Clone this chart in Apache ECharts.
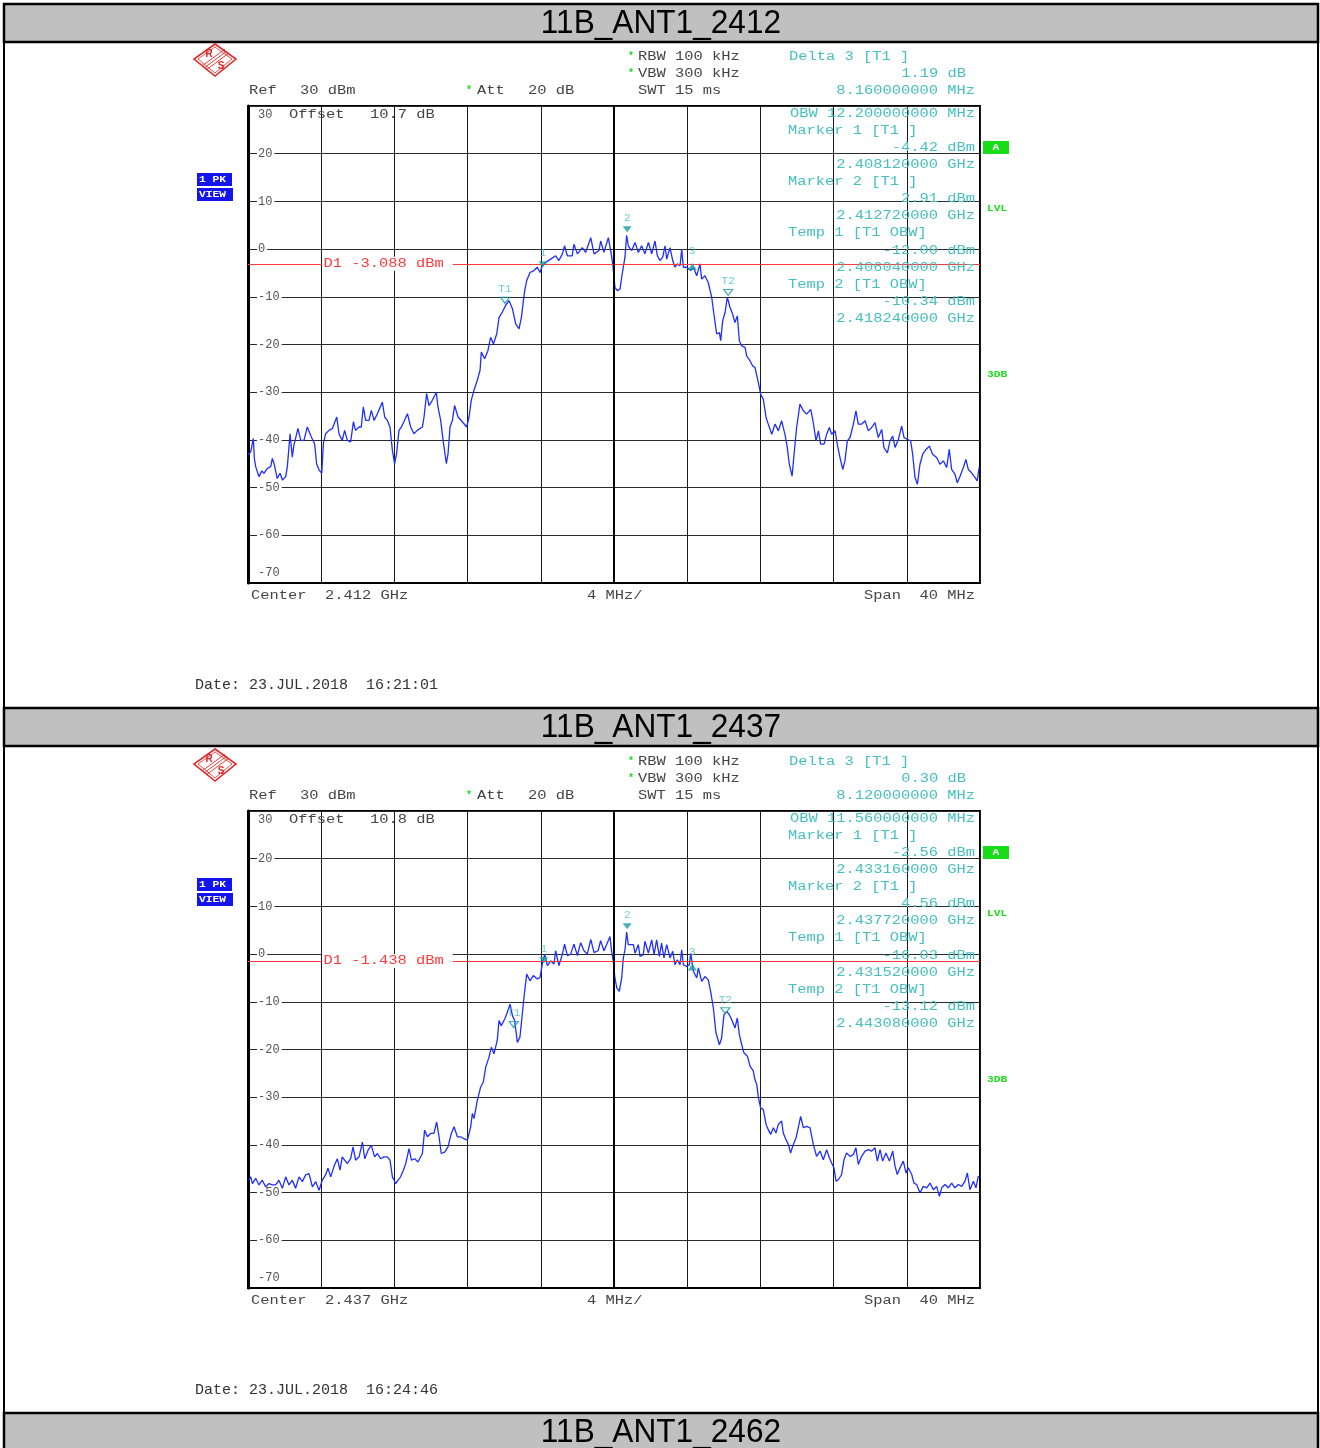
<!DOCTYPE html>
<html><head><meta charset="utf-8">
<script src="https://cdn.jsdelivr.net/npm/echarts@6/dist/echarts.min.js"></script>
<style>html,body{margin:0;padding:0;background:#fff}#c{width:1320px;height:1448px}</style>
</head><body><div id="c"></div>
<script>
// ---------------- data ----------------
const titles = ['11B_ANT1_2412', '11B_ANT1_2437', '11B_ANT1_2462'];
const centerLabels = ['Center  2.412 GHz', 'Center  2.437 GHz'];
const offsetLabels = ['10.7 dB', '10.8 dB'];
const dateLabels = ['Date: 23.JUL.2018  16:21:01', 'Date: 23.JUL.2018  16:24:46'];
const yTickMin = -70, yTickMax = 30, yTickStep = 10;   // Ref 30 dBm, 10 dB/div
const xTickMin = -20, xTickMax = 20, xTickStep = 4;    // offset from centre, MHz (4 MHz/div)
const d1Levels = [-3.088, -1.438];

// trace, panel 1 (offset MHz, dBm)
const freq1 = [-20.00,-19.85,-19.71,-19.65,-19.58,-19.40,-19.25,-19.13,-18.95,-18.76,-18.67,-18.58,-18.40,-18.25,-18.12,-17.94,-17.85,-17.70,-17.58,-17.49,-17.40,-17.27,-17.12,-16.94,-16.76,-16.54,-16.36,-16.25,-16.12,-15.97,-15.88,-15.76,-15.57,-15.39,-15.15,-15.03,-14.85,-14.72,-14.57,-14.39,-14.24,-14.12,-13.93,-13.81,-13.70,-13.57,-13.39,-13.26,-13.11,-12.93,-12.66,-12.53,-12.39,-12.24,-12.11,-11.99,-11.88,-11.75,-11.62,-11.48,-11.29,-11.11,-10.93,-10.75,-10.47,-10.38,-10.24,-10.11,-9.93,-9.71,-9.62,-9.47,-9.34,-9.16,-9.07,-8.96,-8.83,-8.71,-8.52,-8.29,-8.05,-7.92,-7.80,-7.65,-7.47,-7.32,-7.25,-7.07,-6.89,-6.74,-6.59,-6.41,-6.28,-6.10,-5.92,-5.74,-5.55,-5.37,-5.19,-5.06,-4.95,-4.88,-4.77,-4.59,-4.37,-4.19,-4.04,-3.92,-3.73,-3.46,-3.19,-3.01,-2.82,-2.70,-2.55,-2.28,-2.19,-2.00,-1.73,-1.55,-1.27,-1.09,-0.82,-0.73,-0.55,-0.31,-0.18,-0.07,0.05,0.18,0.33,0.42,0.51,0.60,0.69,0.78,0.97,1.15,1.33,1.51,1.69,1.88,2.06,2.24,2.37,2.51,2.66,2.79,2.88,3.06,3.21,3.33,3.46,3.61,3.70,3.79,3.97,4.19,4.34,4.52,4.70,4.79,4.97,5.15,5.25,5.34,5.46,5.61,5.76,5.83,5.94,6.07,6.19,6.34,6.48,6.61,6.74,6.85,6.98,7.16,7.25,7.43,7.58,7.70,7.89,8.01,8.16,8.31,8.43,8.62,8.80,8.98,9.16,9.34,9.47,9.58,9.73,9.84,9.98,10.16,10.35,10.53,10.75,10.89,11.04,11.17,11.29,11.48,11.62,11.77,11.89,12.08,12.20,12.35,12.50,12.62,12.75,12.90,13.08,13.22,13.35,13.53,13.72,13.90,14.08,14.26,14.44,14.63,14.75,14.94,15.08,15.23,15.36,15.54,15.72,15.85,16.03,16.21,16.32,16.45,16.58,16.72,16.87,17.05,17.23,17.41,17.63,17.81,18.00,18.18,18.32,18.45,18.63,18.76,18.91,19.09,19.23,19.36,19.54,19.73,19.85,19.95];
const level1 = [-43.2,-42.5,-39.7,-44.0,-45.6,-47.7,-46.5,-47.0,-46.0,-45.6,-43.9,-44.9,-48.1,-47.0,-48.4,-47.7,-45.6,-38.7,-43.6,-41.1,-40.8,-37.6,-40.1,-40.1,-37.3,-39.4,-40.8,-45.0,-46.3,-47.0,-40.8,-38.7,-38.0,-37.6,-35.2,-38.7,-40.1,-38.0,-40.1,-40.4,-36.2,-38.0,-37.3,-37.3,-33.1,-35.9,-35.9,-33.8,-35.9,-34.5,-32.1,-35.2,-35.9,-37.3,-42.2,-45.0,-42.9,-38.0,-37.3,-36.2,-34.5,-37.3,-38.7,-38.0,-37.3,-35.2,-30.3,-32.8,-31.7,-30.0,-33.1,-35.9,-40.1,-45.0,-42.9,-37.3,-35.9,-32.8,-35.2,-36.2,-37.3,-35.2,-31.7,-29.6,-27.5,-25.4,-21.6,-23.0,-21.3,-18.5,-19.9,-17.8,-14.3,-13.2,-11.8,-10.8,-12.5,-15.7,-16.7,-14.3,-10.8,-8.7,-6.6,-4.9,-4.5,-3.8,-4.9,-3.5,-2.8,-2.1,-1.4,-2.4,-1.0,0.7,-1.4,-1.4,1.0,-1.0,0.3,-0.7,2.4,-1.0,-0.3,1.7,-0.7,2.4,-0.3,-3.1,-8.0,-8.7,-8.4,-5.9,-3.8,-1.7,2.9,0.7,-0.3,1.4,-0.7,0.7,-1.0,1.4,-1.0,1.7,-1.4,-2.4,-1.7,0.7,-2.1,0.3,-2.4,-3.8,-3.1,-3.5,0.0,-3.8,-3.8,-4.5,-3.8,-5.6,-3.1,-6.3,-5.6,-7.0,-6.6,-10.1,-13.6,-17.8,-17.5,-19.2,-15.0,-13.3,-10.1,-12.2,-13.6,-15.4,-14.0,-19.2,-20.3,-20.6,-22.4,-23.4,-24.5,-24.8,-28.0,-30.4,-31.5,-35.3,-36.7,-38.8,-36.7,-38.1,-36.0,-38.8,-41.6,-45.1,-47.6,-43.0,-37.4,-32.5,-33.9,-34.6,-33.6,-36.4,-40.2,-38.1,-40.9,-40.9,-38.8,-37.4,-38.8,-38.1,-40.9,-43.7,-46.2,-44.4,-40.2,-39.5,-36.7,-33.9,-36.7,-36.7,-36.0,-38.1,-37.4,-36.4,-39.5,-37.8,-41.6,-42.7,-40.2,-39.2,-41.6,-39.9,-37.1,-39.5,-39.9,-40.2,-43.0,-47.9,-49.3,-45.1,-43.0,-42.0,-41.3,-43.0,-43.7,-45.1,-44.4,-45.8,-42.0,-46.2,-47.2,-49.0,-47.6,-45.8,-44.1,-46.2,-46.9,-47.9,-48.6,-45.8];

// trace, panel 2 (offset MHz, dBm)
const freq2 = [-19.95,-19.85,-19.76,-19.58,-19.40,-19.22,-19.03,-18.85,-18.67,-18.49,-18.31,-18.12,-17.94,-17.76,-17.58,-17.40,-17.21,-17.03,-16.85,-16.67,-16.48,-16.30,-16.12,-15.94,-15.76,-15.63,-15.48,-15.30,-15.12,-14.97,-14.85,-14.72,-14.57,-14.39,-14.26,-14.12,-13.93,-13.75,-13.62,-13.44,-13.26,-13.08,-12.93,-12.75,-12.57,-12.39,-12.24,-12.11,-11.93,-11.80,-11.66,-11.51,-11.38,-11.20,-11.07,-10.89,-10.71,-10.47,-10.35,-10.20,-10.02,-9.84,-9.69,-9.56,-9.44,-9.25,-9.07,-8.89,-8.74,-8.56,-8.38,-8.20,-8.01,-7.92,-7.83,-7.74,-7.65,-7.47,-7.29,-7.14,-7.01,-6.83,-6.70,-6.56,-6.38,-6.28,-6.16,-5.97,-5.83,-5.68,-5.55,-5.43,-5.28,-5.14,-5.01,-4.92,-4.77,-4.59,-4.41,-4.19,-4.04,-3.92,-3.79,-3.64,-3.46,-3.28,-3.19,-3.01,-2.82,-2.70,-2.55,-2.37,-2.19,-2.00,-1.82,-1.64,-1.46,-1.27,-1.09,-0.87,-0.73,-0.55,-0.40,-0.22,-0.13,-0.04,0.05,0.15,0.29,0.42,0.51,0.60,0.69,0.78,0.87,1.06,1.15,1.33,1.42,1.60,1.69,1.88,2.06,2.19,2.33,2.48,2.60,2.73,2.88,3.06,3.21,3.33,3.46,3.61,3.70,3.79,3.97,4.12,4.19,4.34,4.52,4.61,4.79,4.97,5.15,5.28,5.43,5.57,5.76,5.88,6.01,6.16,6.30,6.43,6.61,6.74,6.85,6.98,7.10,7.29,7.43,7.61,7.70,7.80,7.89,8.01,8.16,8.31,8.43,8.56,8.71,8.85,8.98,9.16,9.25,9.40,9.53,9.65,9.80,9.95,10.07,10.20,10.35,10.53,10.71,10.89,11.07,11.26,11.44,11.62,11.77,11.89,12.02,12.13,12.26,12.44,12.57,12.71,12.90,13.08,13.22,13.35,13.53,13.72,13.90,14.08,14.26,14.39,14.54,14.68,14.86,15.05,15.23,15.36,15.48,15.63,15.81,15.96,16.08,16.27,16.39,16.54,16.72,16.90,17.09,17.27,17.45,17.63,17.78,17.91,18.09,18.27,18.45,18.63,18.82,19.00,19.18,19.31,19.45,19.64,19.78,19.91];
const level2 = [-47.4,-46.7,-48.1,-47.0,-48.4,-47.4,-48.8,-48.1,-48.4,-48.4,-47.4,-49.1,-46.7,-48.4,-47.4,-49.1,-46.7,-47.7,-46.3,-46.0,-48.8,-47.7,-49.5,-47.4,-46.3,-44.9,-46.7,-44.5,-42.9,-45.3,-42.5,-43.2,-43.9,-42.9,-40.4,-43.2,-42.5,-39.4,-42.9,-41.1,-40.1,-42.5,-41.8,-42.9,-42.5,-42.5,-43.2,-46.7,-48.1,-47.4,-46.7,-45.3,-43.9,-40.8,-43.2,-42.9,-43.6,-41.8,-36.9,-38.3,-37.6,-37.6,-35.2,-38.3,-41.8,-41.5,-40.4,-37.6,-36.2,-38.3,-38.3,-38.7,-39.0,-39.0,-36.2,-33.4,-34.5,-30.7,-27.9,-26.8,-23.7,-21.6,-19.5,-20.9,-18.1,-13.9,-15.0,-13.6,-12.2,-10.5,-12.9,-13.9,-18.5,-17.4,-12.5,-9.1,-4.2,-5.6,-4.5,-5.2,-4.9,-2.1,0.0,-2.4,-1.4,-2.1,0.7,-2.4,0.0,2.1,-0.3,0.0,2.1,-0.3,2.4,0.7,0.0,3.1,0.3,0.7,2.8,0.7,2.0,3.7,0.6,-1.5,-5.0,-7.1,-7.8,-5.0,-0.8,0.9,4.6,2.0,1.6,2.0,0.2,2.0,-0.5,-0.1,2.7,0.2,3.0,-0.1,3.0,-0.5,2.3,-0.8,2.0,-0.8,0.6,-2.2,-1.2,-2.2,0.9,-2.2,-2.6,-2.2,0.2,-3.6,-5.0,-2.9,-5.7,-4.7,-5.4,-7.8,-11.3,-16.5,-19.0,-17.6,-12.7,-12.0,-12.7,-13.7,-15.5,-13.4,-16.9,-19.0,-20.7,-21.4,-23.5,-24.5,-26.3,-27.3,-30.1,-32.2,-32.6,-35.7,-36.8,-37.8,-36.4,-37.5,-35.7,-35.0,-37.5,-38.9,-39.9,-41.7,-39.9,-38.5,-36.4,-34.0,-36.4,-36.1,-36.4,-39.9,-42.4,-41.3,-43.1,-41.0,-42.7,-43.8,-44.8,-47.6,-47.3,-46.2,-43.1,-41.7,-42.4,-42.0,-40.6,-44.1,-42.4,-41.3,-41.0,-41.3,-40.6,-43.4,-41.0,-43.4,-41.7,-43.4,-41.3,-44.5,-46.2,-44.8,-43.4,-45.9,-44.8,-46.2,-48.0,-48.3,-50.1,-48.7,-49.0,-48.0,-49.4,-48.7,-50.8,-49.0,-48.3,-49.0,-48.0,-49.0,-48.3,-48.7,-47.6,-45.9,-49.4,-47.6,-49.0,-46.5];

// markers: 1, 2, delta 3 ; temp markers T1, T2
const markerNames = ['1', '2', '3'];
const markerFreq1 = [-3.88, 0.72, 4.28];
const markerLevel1 = [-4.42, 2.91, -3.23];
const markerFreq2 = [-3.84, 0.72, 4.28];
const markerLevel2 = [-2.56, 4.56, -2.26];
const tempNames = ['T1', 'T2'];
const tempFreq1 = [-5.96, 6.24];
const tempLevel1 = [-12.00, -10.34];
const tempFreq2 = [-5.48, 6.08];
const tempLevel2 = [-16.03, -13.12];

// marker readout texts
const deltaDb = ['1.19 dB', '0.30 dB'];
const deltaMHz = ['8.160000000 MHz', '8.120000000 MHz'];
const obwText = ['OBW 12.200000000 MHz', 'OBW 11.560000000 MHz'];
const m1Level = ['-4.42 dBm', '-2.56 dBm'];
const m1Freq = ['2.408120000 GHz', '2.433160000 GHz'];
const m2Level = ['2.91 dBm', '4.56 dBm'];
const m2Freq = ['2.412720000 GHz', '2.437720000 GHz'];
const t1Level = ['-12.00 dBm', '-16.03 dBm'];
const t1Freq = ['2.406040000 GHz', '2.431520000 GHz'];
const t2Level = ['-10.34 dBm', '-13.12 dBm'];
const t2Freq = ['2.418240000 GHz', '2.443080000 GHz'];

// ---------------- layout / style ----------------
const PANEL_DY = [0, 705];
const GRID_LEFT = 248, GRID_TOP = 106, GRID_W = 732, GRID_H = 477;
const MONO = '12px "Liberation Mono", "DejaVu Sans Mono", monospace';
const SX = 1.285;
const GRAY = '#454545', TEAL = '#45bfbf', MTEAL = '#1a9c9c', GREEN = '#18dd18', RED = '#ff3a3a', BLUE = '#1f2eff';

const chart = echarts.init(document.getElementById('c'), null, {renderer: 'canvas', width: 1320, height: 1448});

function zip(a, b) { return a.map((v, k) => [v, b[k]]); }
const traces = [zip(freq1, level1), zip(freq2, level2)];
const mk = [
  {f: markerFreq1, l: markerLevel1, tf: tempFreq1, tl: tempLevel1},
  {f: markerFreq2, l: markerLevel2, tf: tempFreq2, tl: tempLevel2}
];

const grids = [], xAxes = [], yAxes = [], series = [];
for (let i = 0; i < 2; i++) {
  grids.push({left: GRID_LEFT, top: GRID_TOP + PANEL_DY[i], width: GRID_W, height: GRID_H,
    show: true, borderColor: '#000', borderWidth: 2, backgroundColor: 'transparent', outerBoundsMode: 'none'});
  xAxes.push({gridIndex: i, type: 'value', min: xTickMin, max: xTickMax, interval: xTickStep,
    axisLine: {show: true, onZero: false, lineStyle: {color: '#000', width: 2}},
    axisTick: {show: false}, axisLabel: {show: false},
    splitLine: {show: true, lineStyle: {color: '#1a1a1a', width: 1}}});
  yAxes.push({gridIndex: i, type: 'value', min: yTickMin, max: yTickMax, interval: yTickStep,
    axisLine: {show: true, onZero: false, lineStyle: {color: '#000', width: 3}},
    axisTick: {show: false},
    splitLine: {show: true, lineStyle: {color: '#2a2a2a', width: 1}},
    axisLabel: {inside: true, margin: 9, color: '#555',
      formatter: v => v === yTickMax ? '{t|' + v + '}' : (v === yTickMin ? '{b|' + v + '}' : '{n|' + v + '}'),
      rich: {
        n: {fontFamily: '"Liberation Mono", monospace', fontSize: 12, color: '#555', backgroundColor: '#fff', padding: [1, 2, 1, 1]},
        t: {fontFamily: '"Liberation Mono", monospace', fontSize: 12, color: '#555', padding: [18, 0, 0, 1]},
        b: {fontFamily: '"Liberation Mono", monospace', fontSize: 12, color: '#555', padding: [0, 0, 20, 1]}
      }}});
  series.push({type: 'line', xAxisIndex: i, yAxisIndex: i, data: traces[i], showSymbol: false, symbol: 'none',
    lineStyle: {color: BLUE, width: 1.3}, z: 3, silent: true,
    markLine: {silent: true, symbol: 'none', label: {show: false}, animation: false,
      data: [
        {yAxis: d1Levels[i], lineStyle: {color: RED, width: 1, type: 'solid'}},
        {xAxis: 0, lineStyle: {color: '#000', width: 2, type: 'solid'}}
      ]}});
  const m = mk[i];
  const downTri = 'path://M0,0L10,0L5,7Z', upTri = 'path://M5,0L10,7L0,7Z';
  series.push({type: 'scatter', xAxisIndex: i, yAxisIndex: i, z: 5, silent: true,
    data: [0, 1].map(k => ({value: [m.f[k], m.l[k]], name: markerNames[k]})),
    symbol: downTri, symbolSize: [9, 6], symbolOffset: [0, -6],
    itemStyle: {color: MTEAL},
    label: {show: true, position: 'top', distance: 3, formatter: '{b}', color: TEAL, fontFamily: '"Liberation Mono", monospace', fontSize: 11}});
  series.push({type: 'scatter', xAxisIndex: i, yAxisIndex: i, z: 5, silent: true,
    data: [{value: [m.f[2], m.l[2]], name: markerNames[2]}],
    symbol: upTri, symbolSize: [9, 7], symbolOffset: [0, 2],
    itemStyle: {color: MTEAL},
    label: {show: true, position: 'top', distance: 6, formatter: '{b}', color: TEAL, fontFamily: '"Liberation Mono", monospace', fontSize: 11}});
  series.push({type: 'scatter', xAxisIndex: i, yAxisIndex: i, z: 5, silent: true,
    data: [0, 1].map(k => ({value: [m.tf[k], m.tl[k]], name: tempNames[k]})),
    symbol: downTri, symbolSize: [9, 6], symbolOffset: [0, -6],
    itemStyle: {color: 'rgba(0,0,0,0)', borderColor: MTEAL, borderWidth: 1.2},
    label: {show: true, position: 'top', distance: 2, formatter: '{b}', color: TEAL, fontFamily: '"Liberation Mono", monospace', fontSize: 11}});
}

chart.setOption({animation: false, backgroundColor: '#fff', grid: grids, xAxis: xAxes, yAxis: yAxes, series: series});

// ---------------- graphics (frame, texts) ----------------
function T(x, y, s, o) {
  o = o || {};
  const al = o.al || 'left';
  return {type: 'text', x: x, y: y, scaleX: o.sx == null ? SX : o.sx, scaleY: o.sy == null ? 1 : o.sy, z: o.z || 50,
    style: {text: s, font: o.font || MONO, fill: o.c || GRAY, align: al, verticalAlign: 'middle',
      textAlign: al, textVerticalAlign: 'middle', backgroundColor: o.bg, padding: o.pad}};
}
const els = [];
// frame & title bars
const barTops = [4, 708, 1413];
barTops.forEach((t, k) => {
  els.push({type: 'rect', z: 20, shape: {x: 4, y: t, width: 1314, height: 38}, style: {fill: '#c0c0c0', stroke: '#000', lineWidth: 2.5}});
  els.push(T(661, t + 20, titles[k], {font: '34px "Liberation Sans", Arial, sans-serif', sx: 0.93, c: '#000', al: 'center', z: 21}));
});
els.push({type: 'line', z: 20, shape: {x1: 4, y1: 4, x2: 4, y2: 1448}, style: {stroke: '#000', lineWidth: 2}});
els.push({type: 'line', z: 20, shape: {x1: 1318, y1: 4, x2: 1318, y2: 1448}, style: {stroke: '#000', lineWidth: 2}});

for (let i = 0; i < 2; i++) {
  const d = PANEL_DY[i];
  // R&S logo
  els.push({type: 'polygon', z: 30, shape: {points: [[215, 44 + d], [236, 59 + d], [215, 76 + d], [194, 59 + d]]}, style: {fill: 'none', stroke: '#e02828', lineWidth: 1.6}});
  els.push({type: 'polygon', z: 30, shape: {points: [[215, 47 + d], [232, 59 + d], [215, 73 + d], [198, 59 + d]]}, style: {fill: 'none', stroke: '#e02828', lineWidth: 0.8}});
  [-2, 0, 2].forEach(o => els.push({type: 'line', z: 30, shape: {x1: 204 + o, y1: 68 + d + o, x2: 227 + o, y2: 51 + d + o}, style: {stroke: '#e02828', lineWidth: 0.9}}));
  els.push(T(209, 54 + d, 'R', {font: 'bold 10px "Liberation Sans", sans-serif', c: '#e02828', al: 'center', sx: 1}));
  els.push(T(221, 66 + d, 'S', {font: 'bold 10px "Liberation Sans", sans-serif', c: '#e02828', al: 'center', sx: 1}));
  // blue badges
  els.push({type: 'rect', z: 30, shape: {x: 197, y: 173 + d, width: 35, height: 13}, style: {fill: '#1414f0'}});
  els.push({type: 'rect', z: 30, shape: {x: 197, y: 188 + d, width: 36, height: 13}, style: {fill: '#1414f0'}});
  els.push(T(199, 180 + d, '1 PK', {font: 'bold 9px "Liberation Mono", monospace', c: '#fff', sx: 1.25, z: 31}));
  els.push(T(199, 195 + d, 'VIEW', {font: 'bold 9px "Liberation Mono", monospace', c: '#fff', sx: 1.25, z: 31}));
  // green badges
  els.push({type: 'rect', z: 30, shape: {x: 983, y: 141 + d, width: 26, height: 13}, style: {fill: GREEN}});
  els.push(T(996, 148 + d, 'A', {font: 'bold 9px "Liberation Mono", monospace', c: '#fff', sx: 1.25, al: 'center', z: 31}));
  els.push(T(987, 209 + d, 'LVL', {font: 'bold 9px "Liberation Mono", monospace', c: GREEN, sx: 1.25}));
  els.push(T(987, 375 + d, '3DB', {font: 'bold 9px "Liberation Mono", monospace', c: GREEN, sx: 1.25}));
  // header texts
  els.push(T(628, 56 + d, '*', {font: 'bold 10px "Liberation Mono", monospace', c: GREEN, sx: 1}));
  els.push(T(628, 73 + d, '*', {font: 'bold 10px "Liberation Mono", monospace', c: GREEN, sx: 1}));
  els.push(T(466, 90 + d, '*', {font: 'bold 10px "Liberation Mono", monospace', c: GREEN, sx: 1}));
  els.push(T(638, 57 + d, 'RBW 100 kHz'));
  els.push(T(638, 74 + d, 'VBW 300 kHz'));
  els.push(T(638, 91 + d, 'SWT 15 ms'));
  els.push(T(249, 91 + d, 'Ref'));
  els.push(T(300, 91 + d, '30 dBm'));
  els.push(T(477, 91 + d, 'Att'));
  els.push(T(528, 91 + d, '20 dB'));
  // readouts
  els.push(T(789, 57 + d, 'Delta 3 [T1 ]', {c: TEAL}));
  els.push(T(966, 74 + d, deltaDb[i], {c: TEAL, al: 'right'}));
  els.push(T(975, 91 + d, deltaMHz[i], {c: TEAL, al: 'right'}));
  els.push(T(975, 114 + d, obwText[i], {c: TEAL, al: 'right'}));
  els.push(T(788, 131 + d, 'Marker 1 [T1 ]', {c: TEAL}));
  els.push(T(975, 148 + d, m1Level[i], {c: TEAL, al: 'right'}));
  els.push(T(975, 165 + d, m1Freq[i], {c: TEAL, al: 'right'}));
  els.push(T(788, 182 + d, 'Marker 2 [T1 ]', {c: TEAL}));
  els.push(T(975, 199 + d, m2Level[i], {c: TEAL, al: 'right'}));
  els.push(T(975, 216 + d, m2Freq[i], {c: TEAL, al: 'right'}));
  els.push(T(788, 233 + d, 'Temp 1 [T1 OBW]', {c: TEAL}));
  els.push(T(975, 251 + d, t1Level[i], {c: TEAL, al: 'right'}));
  els.push(T(975, 268 + d, t1Freq[i], {c: TEAL, al: 'right'}));
  els.push(T(788, 285 + d, 'Temp 2 [T1 OBW]', {c: TEAL}));
  els.push(T(975, 302 + d, t2Level[i], {c: TEAL, al: 'right'}));
  els.push(T(975, 319 + d, t2Freq[i], {c: TEAL, al: 'right'}));
  // inside / bottom texts
  els.push(T(289, 115 + d, 'Offset', {z: 2}));
  els.push(T(370, 115 + d, offsetLabels[i], {z: 2}));
  els.push(T(251, 596 + d, centerLabels[i]));
  els.push(T(587, 596 + d, '4 MHz/'));
  els.push(T(975, 596 + d, 'Span  40 MHz', {al: 'right'}));
  els.push(T(195, 685 + d, dateLabels[i], {font: '15px "Liberation Mono", monospace', sx: 1, c: '#333'}));
  // D1 label on the display line
  const p = chart.convertToPixel({xAxisIndex: i, yAxisIndex: i}, [xTickMin + xTickStep, d1Levels[i]]);
  els.push(T(p[0] + 1, p[1], 'D1 ' + d1Levels[i].toFixed(3) + ' dBm', {c: RED, bg: '#fff', pad: [1, 7, 1, 1], z: 40}));
}
chart.setOption({graphic: {elements: els}});
</script>
</body></html>
